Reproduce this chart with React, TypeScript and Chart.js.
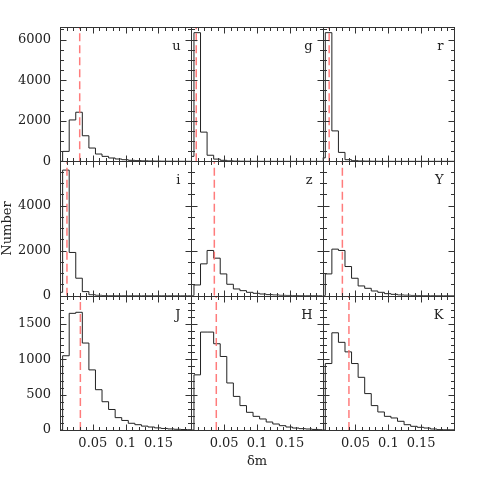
import React, { useEffect, useRef } from "react";
import { Chart, registerables } from "chart.js";

Chart.register(...registerables);

// Bin edges (delta m) shared by all panels
const BIN_EDGES = [0, 0.004, 0.014, 0.024, 0.034, 0.044, 0.054, 0.064, 0.074, 0.084, 0.094, 0.104, 0.114, 0.124, 0.134, 0.144, 0.154, 0.164, 0.174, 0.184, 0.194, 0.2];

const PANEL_NAMES = ["u", "g", "r", "i", "z", "Y", "J", "H", "K"];

const U_COUNTS = [0, 490, 2040, 2420, 1260, 655, 360, 245, 165, 115, 80, 50, 33, 22, 15, 10, 7, 5, 3, 2, 1];
const G_COUNTS = [245, 6340, 1440, 300, 110, 50, 22, 10, 5, 3, 2, 1, 0, 0, 0, 0, 0, 0, 0, 0, 0];
const R_COUNTS = [170, 6340, 1500, 440, 80, 30, 15, 8, 4, 2, 1, 0, 0, 0, 0, 0, 0, 0, 0, 0, 0];
const I_COUNTS = [150, 5580, 1920, 776, 180, 40, 15, 6, 3, 1, 0, 0, 0, 0, 0, 0, 0, 0, 0, 0, 0];
const Z_COUNTS = [0, 476, 1414, 2009, 1667, 967, 506, 298, 223, 149, 104, 74, 45, 30, 15, 10, 5, 3, 2, 1, 0];
const Y_COUNTS = [0, 967, 2068, 2009, 1295, 774, 432, 327, 208, 149, 89, 60, 30, 20, 10, 5, 3, 2, 1, 0, 0];
const J_COUNTS = [0, 1050, 1650, 1665, 1230, 850, 570, 400, 290, 175, 135, 95, 75, 55, 42, 30, 22, 15, 10, 6, 4];
const H_COUNTS = [0, 780, 1385, 1385, 1220, 1040, 665, 475, 345, 250, 193, 156, 113, 85, 61, 42, 28, 19, 14, 8, 4];
const K_COUNTS = [0, 940, 1375, 1240, 1105, 940, 745, 515, 345, 255, 193, 170, 123, 75, 52, 38, 28, 14, 5, 3, 2];

const PANEL_COUNTS = [U_COUNTS, G_COUNTS, R_COUNTS, I_COUNTS, Z_COUNTS, Y_COUNTS, J_COUNTS, H_COUNTS, K_COUNTS];

// median delta m per panel (red dashed lines)
const MEDIANS = [0.030, 0.0075, 0.0099, 0.0106, 0.035, 0.030, 0.031, 0.038, 0.040];

// axes
const X_TICK_LABELS = [0.05, 0.1, 0.15];
const ROW1_TICK_LABELS = [0, 2000, 4000, 6000];
const ROW2_TICK_LABELS = [0, 2000, 4000];
const ROW3_TICK_LABELS = [0, 500, 1000, 1500];
const ROW_TICK_LABELS = [ROW1_TICK_LABELS, ROW2_TICK_LABELS, ROW3_TICK_LABELS];
const ROW_MAX = [6620, 5970, 1900];
const ROW_MAJOR = [2000, 2000, 500];
const ROW_MINOR = [500, 500, 100];
const X_MAX = 0.2;
const X_MAJOR = 0.05;
const X_MINOR = 0.01;

const FONT = "'DejaVu Serif', 'Liberation Serif', serif";
const INK = "#222";

const panelPlugin = {
  id: "panelFrames",
  afterDatasetsDraw(chart: any) {
    const ctx = chart.ctx;
    ctx.save();
    for (let r = 0; r < 3; r++) {
      for (let c = 0; c < 3; c++) {
        const xs = chart.scales["x" + c];
        const ys = chart.scales["y" + r];
        const L = Math.round(xs.left) + 0.5;
        const R = Math.round(xs.right) + 0.5;
        const T = Math.round(ys.top) + 0.5;
        const B = Math.round(ys.bottom) + 0.5;
        ctx.strokeStyle = "#333";
        ctx.lineWidth = 1;
        ctx.beginPath();
        const nx = Math.round(X_MAX / X_MINOR);
        for (let k = 0; k <= nx; k++) {
          const v = k * X_MINOR;
          const major = Math.abs(v / X_MAJOR - Math.round(v / X_MAJOR)) < 1e-6;
          const len = major ? 6 : 3.5;
          const px = Math.round(xs.getPixelForValue(v)) + 0.5;
          ctx.moveTo(px, B);
          ctx.lineTo(px, B - len);
          ctx.moveTo(px, T);
          ctx.lineTo(px, T + len);
        }
        const ny = Math.floor(ROW_MAX[r] / ROW_MINOR[r]);
        for (let k = 0; k <= ny; k++) {
          const v = k * ROW_MINOR[r];
          const major = v % ROW_MAJOR[r] === 0;
          const len = major ? 6 : 3.5;
          const py = Math.round(ys.getPixelForValue(v)) + 0.5;
          ctx.moveTo(L, py);
          ctx.lineTo(L + len, py);
          ctx.moveTo(R, py);
          ctx.lineTo(R - len, py);
        }
        ctx.stroke();
        ctx.strokeRect(L, T, R - L, B - T);
        ctx.fillStyle = INK;
        ctx.font = "13px " + FONT;
        ctx.textAlign = "right";
        ctx.textBaseline = "alphabetic";
        ctx.fillText(PANEL_NAMES[r * 3 + c], R - 11, T + 22);
      }
    }
    ctx.restore();
  },
};

function buildConfig(): any {
  const datasets: any[] = [];
  for (let r = 0; r < 3; r++) {
    for (let c = 0; c < 3; c++) {
      const idx = r * 3 + c;
      const counts = PANEL_COUNTS[idx];
      const pts: { x: number; y: number }[] = [{ x: BIN_EDGES[0], y: 0 }];
      for (let b = 0; b < counts.length; b++) pts.push({ x: BIN_EDGES[b], y: counts[b] });
      pts.push({ x: BIN_EDGES[counts.length], y: 0 });
      datasets.push({
        label: PANEL_NAMES[idx] + " median",
        data: [
          { x: MEDIANS[idx], y: 0 },
          { x: MEDIANS[idx], y: ROW_MAX[r] },
        ],
        xAxisID: "x" + c,
        yAxisID: "y" + r,
        borderColor: "rgba(255,110,110,0.9)",
        borderWidth: 1.5,
        borderDash: [8, 4],
        pointRadius: 0,
        fill: false,
        order: 0,
      });
      datasets.push({
        label: PANEL_NAMES[idx],
        data: pts,
        xAxisID: "x" + c,
        yAxisID: "y" + r,
        stepped: true,
        borderColor: INK,
        borderWidth: 1,
        pointRadius: 0,
        fill: false,
        order: 1,
      });
    }
  }

  const scales: any = {};
  for (let c = 0; c < 3; c++) {
    scales["x" + c] = {
      type: "linear",
      position: "bottom",
      stack: "cols",
      stackWeight: 1,
      weight: c + 1,
      min: 0,
      max: X_MAX,
      grid: { display: false, drawTicks: false },
      border: { display: false },
      afterBuildTicks: (s: any) => {
        s.ticks = X_TICK_LABELS.map((v) => ({ value: v }));
      },
      ticks: {
        autoSkip: false,
        maxRotation: 0,
        padding: 6,
        color: INK,
        font: { family: FONT, size: 13 },
        callback: (v: number) => String(Math.round(v * 100) / 100),
      },
      title: {
        display: c === 1,
        text: "δm",
        color: INK,
        font: { family: FONT, size: 13 },
        padding: { top: 0, bottom: 22 },
      },
      afterFit: (s: any) => {
        s.height = 61;
      },
    };
  }
  for (let r = 0; r < 3; r++) {
    scales["y" + r] = {
      type: "linear",
      position: "left",
      stack: "rows",
      stackWeight: 1,
      weight: 3 - r,
      min: 0,
      max: ROW_MAX[r],
      grid: { display: false, drawTicks: false },
      border: { display: false },
      afterBuildTicks: (s: any) => {
        s.ticks = ROW_TICK_LABELS[r].map((v) => ({ value: v }));
      },
      ticks: {
        autoSkip: false,
        padding: 9,
        color: INK,
        font: { family: FONT, size: 13 },
        callback: (v: number) => String(v),
      },
      title: {
        display: r === 1,
        text: "Number",
        color: INK,
        font: { family: FONT, size: 13 },
        padding: { top: 0, bottom: 0 },
      },
      afterFit: (s: any) => {
        s.width = 60;
      },
    };
  }

  return {
    type: "line",
    data: { datasets },
    options: {
      animation: false,
      responsive: false,
      maintainAspectRatio: false,
      layout: { padding: { top: 27, right: 26, left: 0, bottom: 0 } },
      plugins: {
        legend: { display: false },
        tooltip: { enabled: false },
        title: { display: false },
      },
      scales,
    },
    plugins: [panelPlugin],
  };
}

export default function App() {
  const ref = useRef<HTMLCanvasElement>(null);
  useEffect(() => {
    if (!ref.current) return;
    const chart = new Chart(ref.current, buildConfig());
    return () => chart.destroy();
  }, []);
  return (
    <div style={{ position: "absolute", left: 0, top: 0, width: 480, height: 491, background: "#fff" }}>
      <canvas ref={ref} width={480} height={491} style={{ display: "block", width: 480, height: 491 }} />
    </div>
  );
}
